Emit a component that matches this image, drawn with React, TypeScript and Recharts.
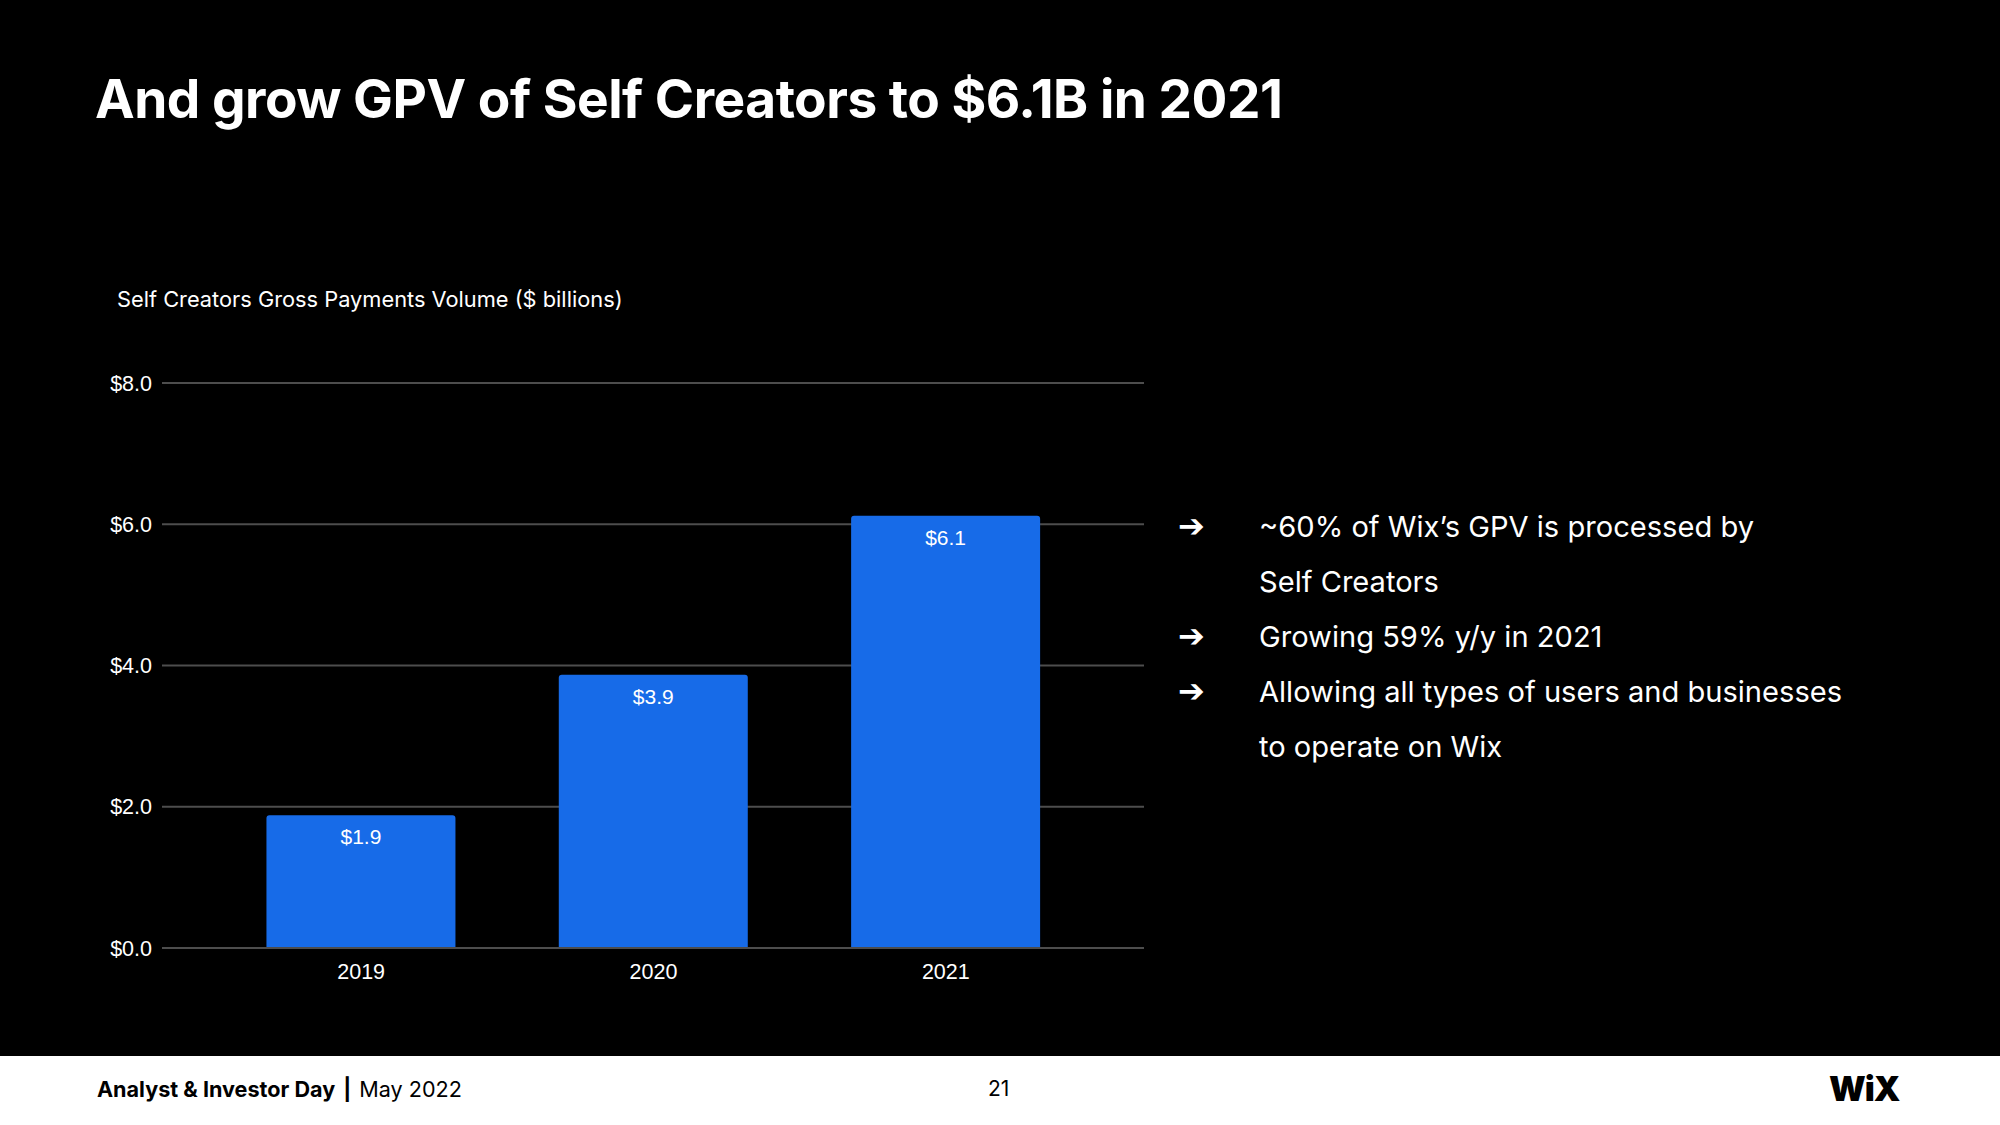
import React from "react";
import { BarChart, Bar, XAxis, YAxis, CartesianGrid, LabelList } from "recharts";

const years = ["2019", "2020", "2021"];
const gpv = [1.88, 3.87, 6.12];
const yTicks = [0, 2, 4, 6, 8];

const title = "And grow GPV of Self Creators to $6.1B in 2021";
const subtitle = "Self Creators Gross Payments Volume ($ billions)";
const bullets = [
  ["~60% of Wix’s GPV is processed by", "Self Creators"],
  ["Growing 59% y/y in 2021"],
  ["Allowing all types of users and businesses", "to operate on Wix"],
];

const data = years.map((y, i) => ({ year: y, value: gpv[i] }));

const FONT = "Inter, 'Noto Sans', sans-serif";
const AXFONT = "'Liberation Sans', Arial, sans-serif";

export default function App() {
  return (
    <div
      style={{
        position: "absolute",
        left: 0,
        top: 0,
        width: 2000,
        height: 1125,
        background: "#000",
        overflow: "hidden",
        fontFamily: FONT,
      }}
    >
      <div
        style={{
          position: "absolute",
          left: 95,
          top: 66,
          color: "#fff",
          fontSize: 53.2,
          fontWeight: 700,
          letterSpacing: -0.5,
          whiteSpace: "nowrap",
        }}
      >
        {title}
      </div>
      <div
        style={{
          position: "absolute",
          left: 117,
          top: 286,
          color: "#fff",
          fontSize: 21.8,
          fontWeight: 400,
          whiteSpace: "nowrap",
        }}
      >
        {subtitle}
      </div>

      <div style={{ position: "absolute", left: 0, top: 0 }}>
        <BarChart
          width={1200}
          height={1000}
          data={data}
          margin={{ top: 383, right: 56, bottom: 12, left: 100 }}
          barCategoryGap="17.6%"
        >
          <CartesianGrid vertical={false} stroke="#4d4d4d" strokeWidth={2} />
          <XAxis
            dataKey="year"
            axisLine={{ stroke: "#4d4d4d", strokeWidth: 2 }}
            tickLine={false}
            tickSize={0}
            tickMargin={16}
            height={40}
            padding={{ left: 53, right: 52 }}
            tick={{ fill: "#fff", fontSize: 21.5, fontFamily: AXFONT }}
          />
          <YAxis
            domain={[0, 8]}
            ticks={yTicks}
            width={62}
            axisLine={false}
            tickLine={false}
            tickSize={0}
            tickMargin={10}
            tickFormatter={(v: number) => `$${v.toFixed(1)}`}
            tick={{ fill: "#fff", fontSize: 21.5, fontFamily: AXFONT }}
          />
          <Bar dataKey="value" fill="#176BE8" radius={[3, 3, 0, 0]} isAnimationActive={false}>
            <LabelList
              dataKey="value"
              position="insideTop"
              offset={14}
              formatter={(v: number) => `$${v.toFixed(1)}`}
              style={{ fill: "#fff", fontSize: 21, fontFamily: AXFONT }}
            />
          </Bar>
        </BarChart>
      </div>

      <div style={{ position: "absolute", left: 1178, top: 499, color: "#fff" }}>
        {bullets.map((b, i) => (
          <div key={i} style={{ display: "flex" }}>
            <div
              style={{
                width: 81,
                fontSize: 32,
                lineHeight: "55px",
                fontFamily: "'DejaVu Sans', sans-serif",
                fontWeight: 700,
              }}
            >
              ➔
            </div>
            <div style={{ fontSize: 29.1, lineHeight: "55px", fontWeight: 400 }}>
              {b.map((l, j) => (
                <div key={j} style={{ whiteSpace: "nowrap" }}>
                  {l}
                </div>
              ))}
            </div>
          </div>
        ))}
      </div>

      <div
        style={{
          position: "absolute",
          left: 0,
          top: 1056,
          width: 2000,
          height: 69,
          background: "#fff",
          color: "#000",
        }}
      >
        <div
          style={{
            position: "absolute",
            left: 97,
            top: 20,
            fontSize: 21.6,
            whiteSpace: "nowrap",
          }}
        >
          <span style={{ fontWeight: 700 }}>Analyst &amp; Investor Day</span>
          <span style={{ fontWeight: 700, margin: "0 8px" }}>|</span>
          <span>May 2022</span>
        </div>
        <div style={{ position: "absolute", left: 988, top: 20, fontSize: 21 }}>21</div>
        <div
          style={{
            position: "absolute",
            left: 1829,
            top: 12,
            fontSize: 34,
            fontWeight: 900,
            letterSpacing: -1,
          }}
        >
          WiX
        </div>
      </div>
    </div>
  );
}
